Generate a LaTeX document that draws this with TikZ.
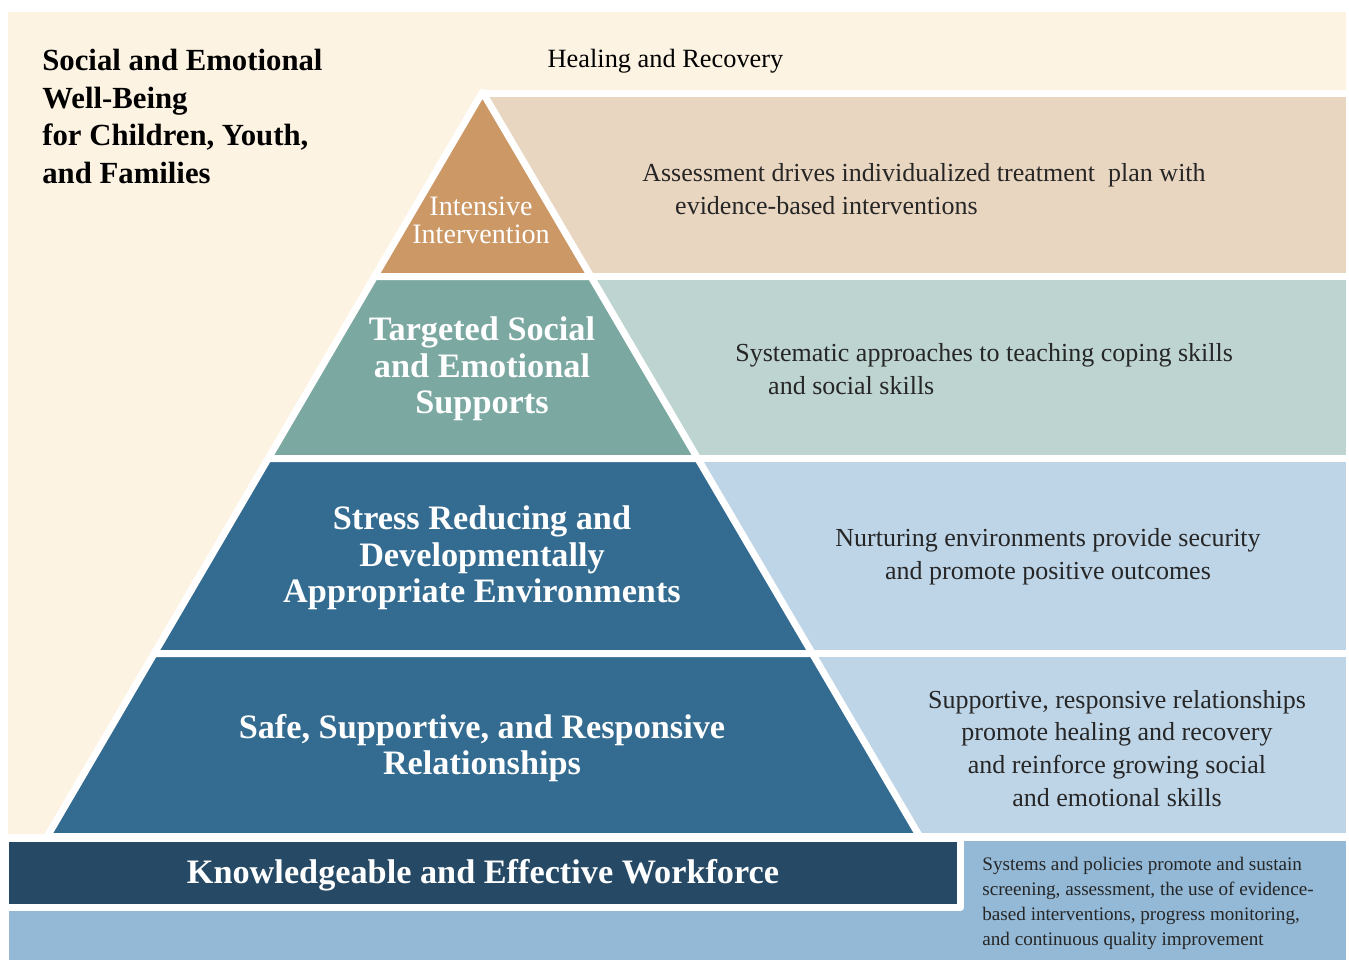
\documentclass[tikz,border=0pt]{standalone}
\usepackage{fontspec}
\setmainfont{Liberation Serif}
\usepackage{xcolor}
\usepackage{tikz}
\definecolor{cream}{HTML}{FDF3E3}
\definecolor{bandone}{HTML}{E9D6C1}
\definecolor{tierone}{HTML}{CC9866}
\definecolor{bandtwo}{HTML}{BDD4D0}
\definecolor{tiertwo}{HTML}{7BA8A1}
\definecolor{bandblue}{HTML}{BED5E8}
\definecolor{tierblue}{HTML}{336B91}
\definecolor{darkblue}{HTML}{264A66}
\definecolor{baseblue}{HTML}{93B9D7}

\begin{document}
\begin{tikzpicture}[x=0.02cm,y=-0.02cm,inner sep=0pt,
  whiteedge/.style={draw=white,line width=0.14cm,line join=round},
  tiertext/.style={text=white,align=center,font=\fontsize{19.5}{20.7}\selectfont\bfseries},
  bandtext/.style={text=black!85,font=\fontsize{14.8}{18.7}\selectfont}]
  \useasboundingbox (0,0) rectangle (1349,960);
  \fill[cream] (8,12) rectangle (1346,834);
  % bands on the right
  \path[fill=bandone,whiteedge] (482.5,93.5) rectangle (1349.5,276.5);
  \path[fill=bandtwo,whiteedge] (482.5,276.5) rectangle (1349.5,458.5);
  \path[fill=bandblue,whiteedge] (482.5,458.5) rectangle (1349.5,653.5);
  \path[fill=bandblue,whiteedge] (482.5,653.5) rectangle (1349.5,836.5);
  % pyramid
  \path[fill=tierone,whiteedge] (482.5,92) -- (590.9,276.5) -- (374.6,276.5) -- cycle;
  \path[fill=tiertwo,whiteedge] (374.6,276.5) -- (590.9,276.5) -- (697.7,458.5) -- (268.2,458.5) -- cycle;
  \path[fill=tierblue,whiteedge] (268.2,458.5) -- (697.7,458.5) -- (812.3,653.5) -- (154.2,653.5) -- cycle;
  \path[fill=tierblue,whiteedge] (154.2,653.5) -- (812.3,653.5) -- (919.7,836.5) -- (47.2,836.5) -- cycle;
  % base
  \fill[baseblue] (9,841) rectangle (1346,960);
  \path[fill=darkblue,whiteedge] (5.5,838.5) rectangle (960.5,907.5);

  \node[anchor=west,align=left,font=\fontsize{17.5}{21.4}\selectfont\bfseries] (title) at (42,116.5)
    {Social and Emotional\\Well-Being\\for Children, Youth,\\and Families};
  \node[font=\fontsize{15}{18}\selectfont] (heal) at (665.5,61) {Healing and Recovery};

  \node[text=white,align=center,font=\fontsize{16}{16}\selectfont] (t1) at (481,220) {Intensive\\Intervention};
  \node[tiertext] (t2) at (482,369) {Targeted Social\\and Emotional\\Supports};
  \node[tiertext] (t3) at (482,558) {Stress Reducing and\\Developmentally\\Appropriate Environments};
  \node[tiertext] (t4) at (482,748) {Safe, Supportive, and Responsive\\Relationships};
  \node[tiertext] (work) at (483,875) {Knowledgeable and Effective Workforce};

  \node[bandtext,anchor=west,align=left] (b1) at (642,189)
    {Assessment drives individualized treatment\ \ plan with\\\hspace*{18.7pt}evidence-based interventions};
  \node[bandtext,anchor=west,align=left] (b2) at (735,369)
    {Systematic approaches to teaching coping skills\\\hspace*{18.7pt}and social skills};
  \node[bandtext,align=center] (b3) at (1048,557)
    {Nurturing environments provide security\\and promote positive outcomes};
  \node[bandtext,align=center] (b4) at (1117,748.5)
    {Supportive, responsive relationships\\promote healing and recovery\\and reinforce growing social\\and emotional skills};
  \node[text=black!85,anchor=west,align=left,font=\fontsize{10.9}{14.2}\selectfont] (sys) at (982,903)
    {Systems and policies promote and sustain\\screening, assessment, the use of evidence-\\based interventions, progress monitoring,\\and continuous quality improvement};
\end{tikzpicture}
\end{document}
